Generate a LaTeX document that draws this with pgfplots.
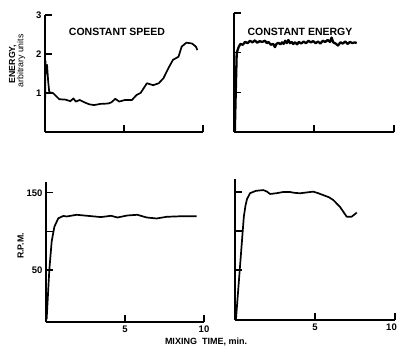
\documentclass[border=0pt]{standalone}
\usepackage{fontspec}
\setmainfont{Liberation Sans}
\usepackage{pgfplots}
\pgfplotsset{compat=1.18}
\begin{document}
\begin{tikzpicture}
\useasboundingbox (0,0) rectangle (398pt,347pt);
\pgfplotsset{
  every axis/.append style={
    scale only axis,
    axis x line*=bottom, axis y line*=left,
    tick align=inside,
    major tick length=7pt,
    axis line style={line width=1.3pt},
    every tick/.style={line width=1.2pt, black},
    ticklabel style={font=\fontsize{9.5}{10}\selectfont\bfseries},
    /pgf/number format/assume math mode=true,
    xmin=0, xmax=10,
    xtick={5,10},
    clip=false,
  },
  curve/.style={black, line width=1.7pt, line join=round, no markers},
}
% Top left: constant speed, energy
\begin{axis}[at={(45pt,215pt)}, anchor=south west, width=158pt, height=117pt,
  ymin=0, ymax=3, ytick={1,2,3}, yticklabels={1,2,3}, xticklabels={,}]
\addplot[curve] coordinates {
(0,0) (0.02,1.85) (0.08,1.5) (0.13,1.72) (0.2,1.3) (0.27,1.02) (0.5,1.0)
(0.63,0.95) (0.9,0.84) (1.3,0.83) (1.6,0.79) (1.8,0.86) (1.95,0.78) (2.2,0.82)
(2.5,0.76) (2.8,0.71) (3.1,0.69) (3.5,0.72) (4.0,0.73) (4.2,0.76) (4.45,0.85)
(4.7,0.78) (5.05,0.82) (5.5,0.82) (5.8,0.95) (6.05,1.0) (6.45,1.25) (6.85,1.2)
(7.2,1.25) (7.5,1.38) (7.8,1.63) (8.1,1.85) (8.45,1.93) (8.65,2.19) (8.95,2.29)
(9.3,2.27) (9.55,2.19) (9.64,2.1)
};
\end{axis}
% Top right: constant energy, energy
\begin{axis}[at={(234pt,215pt)}, anchor=south west, width=160pt, height=119pt,
  ymin=0, ymax=3, ytick={1,2,3}, yticklabels={,,}, xticklabels={,}]
\addplot[curve, line width=2.3pt] coordinates {
(0.05,0) (0.12,1.2) (0.17,2.0) (0.3,2.15) (0.4,2.22) (0.55,2.2) (0.69,2.27)
(0.85,2.24) (1.0,2.3) (1.15,2.26) (1.31,2.31) (1.45,2.25) (1.6,2.29) (1.75,2.27)
(1.94,2.3) (2.05,2.24) (2.15,2.27) (2.3,2.2) (2.45,2.22) (2.56,2.14) (2.65,2.22)
(2.77,2.25) (2.9,2.21) (3.0,2.26) (3.1,2.22) (3.2,2.3) (3.3,2.24) (3.4,2.32)
(3.5,2.24) (3.6,2.27) (3.7,2.22) (3.81,2.26) (3.95,2.21) (4.05,2.27) (4.2,2.23)
(4.35,2.28) (4.5,2.24) (4.65,2.3) (4.8,2.26) (4.95,2.29) (5.1,2.24) (5.25,2.28)
(5.4,2.23) (5.55,2.3) (5.7,2.27) (5.85,2.32) (6.0,2.27) (6.1,2.38) (6.2,2.26)
(6.35,2.23) (6.5,2.18) (6.65,2.26) (6.8,2.23) (6.95,2.28) (7.1,2.22) (7.25,2.27)
(7.4,2.24) (7.55,2.26) (7.67,2.24)
};
\end{axis}
% Bottom left: constant speed, rpm
\begin{axis}[at={(46pt,25pt)}, anchor=south west, width=158pt, height=140pt,
  ymin=-17.5, ymax=164, ytick={50,100,150}, yticklabels={50,,150},
  xticklabels={5,10}]
\addplot[curve] coordinates {
(0.04,-14) (0.21,50) (0.36,87) (0.53,106) (0.78,117) (1.1,120) (1.31,119.3)
(1.94,121.5) (2.6,120.2) (3.48,118.5) (4.11,120.2) (4.53,118) (5.15,120.6)
(5.78,121.5) (6.37,118) (7.0,116.7) (7.64,118.9) (8.69,119.7) (9.54,119.7)
};
\end{axis}
% Bottom right: constant energy, rpm
\begin{axis}[at={(235pt,27pt)}, anchor=south west, width=160pt, height=141pt,
  ymin=-14, ymax=166.7, ytick={50,100,150}, yticklabels={,,},
  xticklabels={5,{\hspace{-7pt}10}}]
\addplot[curve] coordinates {
(0.06,-13) (0.55,118) (0.65,132) (0.75,141) (0.94,148.5) (1.3,151.5) (1.77,152.5)
(2.0,150.5) (2.19,147.5) (2.6,148.5) (3.0,150) (3.44,150) (3.7,149) (4.06,148.4)
(4.5,149.5) (4.89,150.5) (5.2,148.5) (5.52,146) (5.85,143.5) (6.14,139.8)
(6.56,131) (6.98,118.4) (7.29,118.4) (7.61,123.6)
};
\end{axis}
\node[font=\fontsize{10.5}{11}\selectfont\bfseries] at (117pt,315pt) {CONSTANT SPEED};
\node[font=\fontsize{10.5}{11}\selectfont\bfseries] at (300pt,315pt) {CONSTANT ENERGY};
\node[rotate=90, font=\fontsize{8.8}{9}\selectfont\bfseries] at (12.8pt,283pt) {ENERGY,};
\node[rotate=90, font=\fontsize{8.8}{9}\selectfont] at (21pt,286pt) {arbitrary units};
\node[rotate=90, font=\fontsize{8.8}{9}\selectfont\bfseries] at (20.5pt,101pt) {R.P.M.};
\node[font=\fontsize{9}{10}\selectfont\bfseries] at (206pt,5.5pt) {MIXING\ \ TIME, min.};
\end{tikzpicture}
\end{document}
